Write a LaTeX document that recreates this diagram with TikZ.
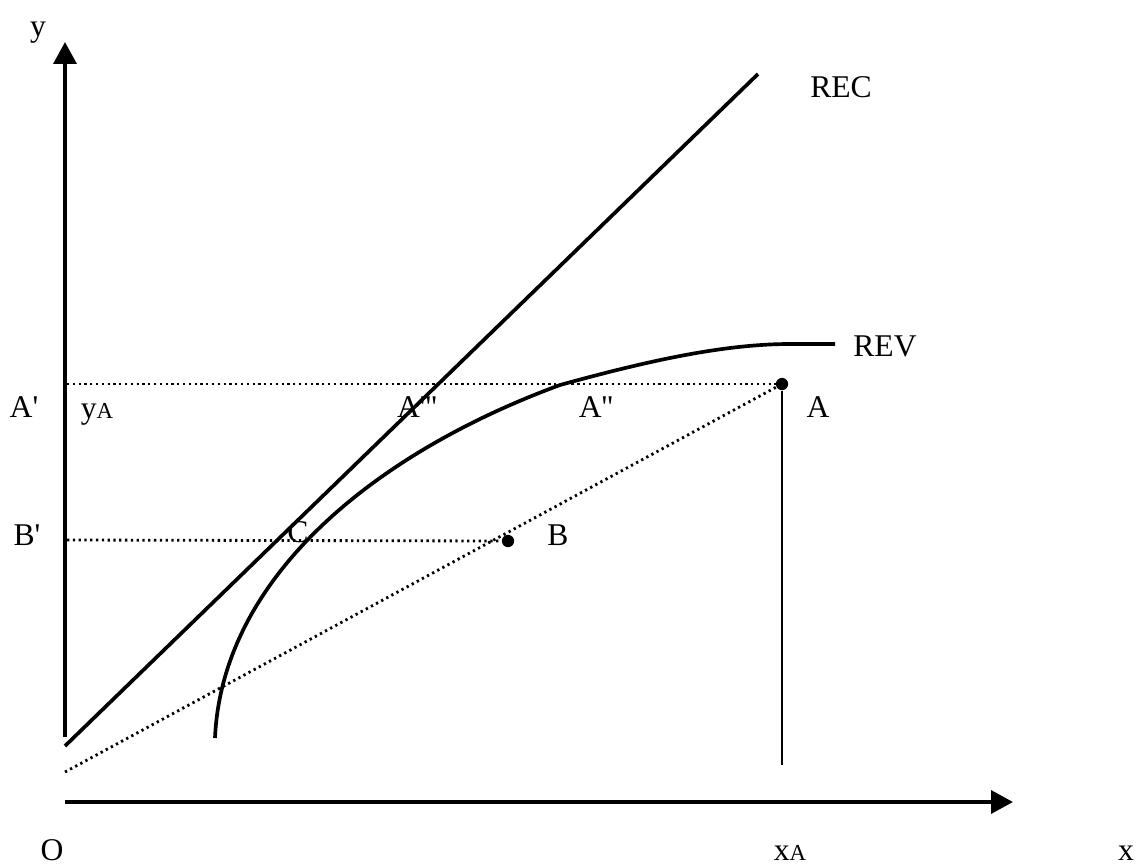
\documentclass[tikz,border=0pt]{standalone}
\usepackage{fontspec}
\setmainfont{Liberation Serif}
\usetikzlibrary{arrows.meta}
\newcommand{\prm}{\textquotesingle}
\newcommand{\sub}[1]{{\fontsize{13}{15}\selectfont #1}}

\begin{document}
\begin{tikzpicture}[x=0.02cm,y=-0.02cm,
  axis/.style={line width=2.2pt,-{Triangle[length=12.5pt,width=13pt]}},
  curve/.style={line width=2.1pt},
  guide/.style={line width=1.6pt,dash pattern=on 1.3pt off 2pt},
  lbl/.style={font=\fontsize{18}{20}\selectfont,inner sep=0pt,anchor=base},
  dot/.style={circle,fill=black,inner sep=0pt,minimum size=7pt}]
\useasboundingbox (0,0) rectangle (1137,866);
% axes
\coordinate (ybot) at (65,737); \coordinate (ytop) at (65,42);
\coordinate (xleft) at (65,802); \coordinate (xright) at (1013,802);
\draw[axis] (ybot)--(ytop);
\draw[axis] (xleft)--(xright);
% points A and B
\node[dot] (A) at (782,384) {};
\node[dot] (B) at (508,541) {};
\coordinate (Aprime) at (67,384); \coordinate (Bprime) at (67,540);
\coordinate (Ofoot) at (65,772); \coordinate (Afoot) at (782,765);
% guide lines
\draw[guide] (Aprime)--(A);
\draw[guide] (Bprime)--(B.west);
\draw[guide] (Ofoot)--(A);
\draw[line width=1.1pt] (A)--(Afoot);
% REC and REV
\coordinate (rec0) at (65,746); \coordinate (rec1) at (758,74);
\draw[curve] (rec0)--(rec1);
\coordinate (rev0) at (215,738); \coordinate (rev1) at (560,385);
\coordinate (rev2) at (790,344); \coordinate (rev3) at (835,344);
\draw[curve] (rev0) .. controls (222,580) and (370,455) .. (rev1)
  .. controls (640,363) and (720,344) .. (rev2) -- (rev3);
% labels
\node[lbl] (ylab) at (38,36) {y};
\node[lbl] (Olab) at (52,860) {O};
\node[lbl] (xlab) at (1126,860) {x};
\node[lbl] (xAlab) at (790,860) {x\sub{A}};
\node[lbl] (Aplab) at (24,417) {A\prm};
\node[lbl] (yAlab) at (97,418) {y\sub{A}};
\node[lbl] (Bplab) at (27,545) {B\prm};
\node[lbl] (A3lab) at (417,417) {A\prm\prm\prm};
\node[lbl] (A2lab) at (596,417) {A\prm\prm};
\node[lbl] (Alab) at (818,417) {A};
\node[lbl] (Blab) at (558,545) {B};
\node[lbl] (Clab) at (298,542) {C};
\node[lbl] (REClab) at (841,97) {REC};
\node[lbl] (REVlab) at (885,356) {REV};
\end{tikzpicture}
\end{document}
